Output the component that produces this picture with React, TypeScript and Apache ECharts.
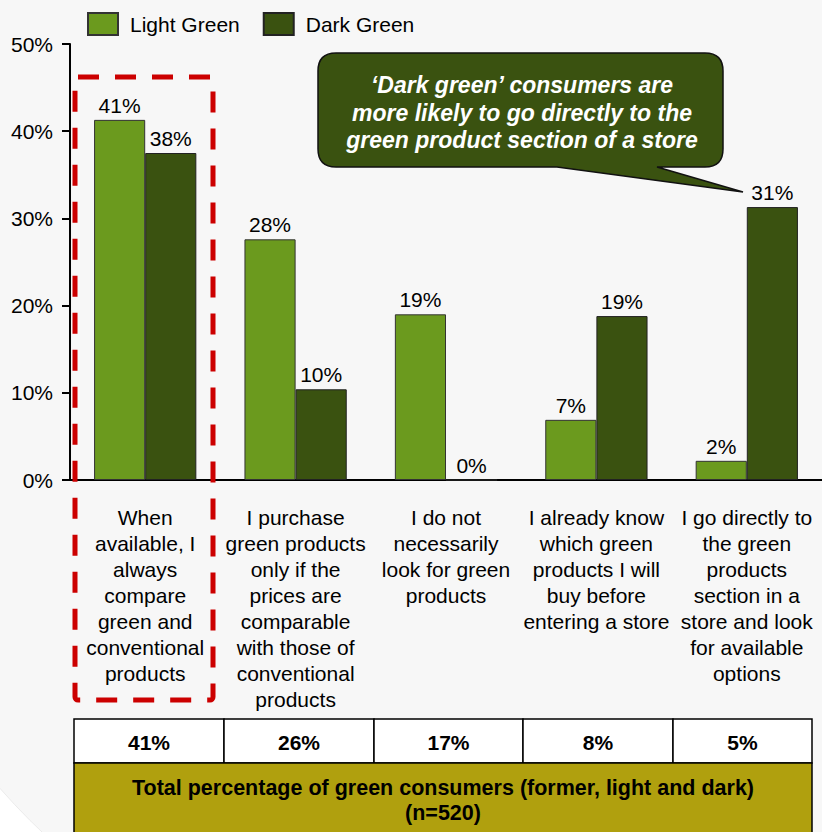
import React, { useEffect, useRef } from "react";
import * as echarts from "echarts";

const categories = [
  "When\navailable, I\nalways\ncompare\ngreen and\nconventional\nproducts",
  "I purchase\ngreen products\nonly if the\nprices are\ncomparable\nwith those of\nconventional\nproducts",
  "I do not\nnecessarily\nlook for green\nproducts",
  "I already know\nwhich green\nproducts I will\nbuy before\nentering a store",
  "I go directly to\nthe green\nproducts\nsection in a\nstore and look\nfor available\noptions",
];
const lightGreen = [41.3, 27.6, 19.0, 6.9, 2.2];
const darkGreen = [37.5, 10.4, 0, 18.8, 31.3];
const totals = ["41%", "26%", "17%", "8%", "5%"];
const calloutLines = [
  "\u2018Dark green\u2019 consumers are",
  "more likely to go directly to the",
  "green product section of a store",
];
const tableCaption = [
  "Total percentage of green consumers (former, light and dark)",
  "(n=520)",
];

const FONT = "'Liberation Sans', Arial, sans-serif";
const LIGHT = "#6b9a1e";
const DARK = "#3a5210";

const calloutPath =
  "M 336 53 H 705 Q 723 53 723 71 V 149 Q 723 167 705 167 H 657 L 743 192 L 557 167 H 336 Q 318 167 318 149 V 71 Q 318 53 336 53 Z";
echarts.graphic.registerShape("callout", echarts.graphic.extendPath(calloutPath, {}));

export default function App() {
  const ref = useRef<HTMLDivElement>(null);
  useEffect(() => {
    if (!ref.current) return;
    const chart = echarts.init(ref.current, null, { renderer: "svg" });

    const colEdges = [74, 224, 374, 523, 673, 812];
    const tableEls: any[] = [];
    totals.forEach((t, i) => {
      tableEls.push({
        type: "rect",
        shape: { x: colEdges[i], y: 719, width: colEdges[i + 1] - colEdges[i], height: 44 },
        style: { fill: "#ffffff", stroke: "#000", lineWidth: 1.5 },
        z: 50,
      });
      tableEls.push({
        type: "text",
        x: (colEdges[i] + colEdges[i + 1]) / 2,
        y: 742,
        style: {
          text: t,
          font: `bold 21px ${FONT}`,
          fill: "#000",
          align: "center",
          verticalAlign: "middle",
        },
        z: 51,
      });
    });
    tableEls.push({
      type: "rect",
      shape: { x: 74, y: 763, width: 738, height: 80 },
      style: { fill: "#b0a00e", stroke: "#000", lineWidth: 1.5 },
      z: 50,
    });
    tableCaption.forEach((t, i) => {
      tableEls.push({
        type: "text",
        x: 443,
        y: 788 + i * 25,
        style: {
          text: t,
          font: `bold 21.5px ${FONT}`,
          fill: "#000",
          align: "center",
          verticalAlign: "middle",
        },
        z: 51,
      });
    });

    const calloutEls: any[] = [
      {
        type: "callout",
        x: 0,
        y: 0,
        style: { fill: DARK, stroke: "#111", lineWidth: 1.5 },
        z: 60,
      },
      ...calloutLines.map((t, i) => ({
        type: "text",
        x: 522,
        y: 85 + i * 27.5,
        style: {
          text: t,
          font: `italic bold 23px ${FONT}`,
          fill: "#ffffff",
          align: "center",
          verticalAlign: "middle",
        },
        z: 61,
      })),
    ];

    chart.setOption({
      animation: false,
      backgroundColor: "#ffffff",
      textStyle: { fontFamily: FONT },
      legend: {
        left: 82,
        top: 7,
        itemWidth: 30,
        itemHeight: 22,
        itemGap: 23,
        icon: "rect",
        textStyle: { fontSize: 21, color: "#000", padding: [0, 0, 0, 7] },
        data: ["Light Green", "Dark Green"],
      },
      grid: {
        left: 70,
        right: 0,
        top: 44,
        bottom: 352,
        containLabel: false,
        outerBoundsMode: "none",
      },
      xAxis: {
        type: "category",
        data: categories,
        axisLine: { show: true, lineStyle: { color: "#000", width: 2 } },
        axisTick: { show: false },
        axisLabel: {
          interval: 0,
          fontSize: 21,
          lineHeight: 26,
          color: "#000",
          margin: 24,
          align: "center",
        },
      },
      yAxis: {
        type: "value",
        min: 0,
        max: 50,
        interval: 10,
        splitLine: { show: false },
        axisLine: { show: true, lineStyle: { color: "#000", width: 2 } },
        axisTick: { show: true, length: 8, lineStyle: { color: "#000", width: 2 } },
        axisLabel: { formatter: "{value}%", fontSize: 21, color: "#000", margin: 17 },
      },
      series: [
        {
          name: "Light Green",
          type: "bar",
          data: lightGreen,
          barGap: "0%",
          barCategoryGap: "32%",
          itemStyle: { color: LIGHT, borderColor: "#333", borderWidth: 1 },
          label: {
            show: true,
            position: "top",
            distance: 4,
            fontSize: 21,
            color: "#000",
            formatter: (p: any) => Math.round(p.value) + "%",
          },
        },
        {
          name: "Dark Green",
          type: "bar",
          data: darkGreen,
          barGap: "0%",
          barCategoryGap: "32%",
          itemStyle: { color: DARK, borderColor: "#222", borderWidth: 1 },
          label: {
            show: true,
            position: "top",
            distance: 4,
            fontSize: 21,
            color: "#000",
            formatter: (p: any) => Math.round(p.value) + "%",
          },
        },
      ],
      graphic: {
        elements: [
          {
            type: "circle",
            shape: { cx: 500, cy: 350, r: 665 },
            style: { fill: "#f7f7f7", stroke: "#ebebeb", lineWidth: 1 },
            z: -100,
            silent: true,
          },
          {
            type: "rect",
            shape: { x: 75, y: 77, width: 138, height: 623, r: 3 },
            style: { fill: "none", stroke: "#cc0000", lineWidth: 5, lineDash: [21, 16] },
            z: 70,
            silent: true,
          },
          ...calloutEls,
          ...tableEls,
        ],
      },
    });
    return () => chart.dispose();
  }, []);
  return (
    <div
      ref={ref}
      style={{ position: "absolute", left: 0, top: 0, width: 822, height: 832 }}
    />
  );
}
